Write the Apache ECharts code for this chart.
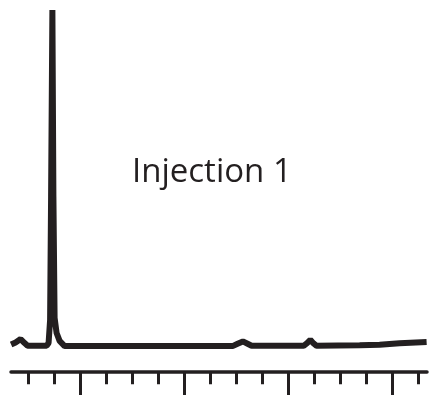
<!DOCTYPE html>
<html>
<head>
<meta charset="utf-8">
<script src="https://cdn.jsdelivr.net/npm/echarts@6/dist/echarts.min.js"></script>
<style>
  html, body { margin: 0; padding: 0; background: #fff; }
  #main { width: 429px; height: 395px; }
</style>
</head>
<body>
<div id="main"></div>
<script>
// retention time (axis units) and detector signal
var times = [
    -0.646, -0.473, -0.281, -0.127, -0.012,
    0.719, 0.796, 0.854, 0.892, 0.942, 0.981, 1.027, 1.104, 1.219, 1.412,
    3.0, 6.0, 7.873, 8.065, 8.269, 8.45, 8.604,
    10.604, 10.738, 10.862, 10.988, 11.104,
    12.758, 13.527, 14.296, 15.335
];
var signal = [
    0.4, 1.0, 2.0, 0.8, 0,
    0, 0.85, 7.7, 44.5, 100, 44.5, 8.3, 3.8, 1.45, -0.1,
    -0.1, -0.1, -0.1, 0.6, 1.3, 0.6, 0,
    0, 0.8, 1.75, 0.7, 0,
    0.15, 0.3, 0.75, 1.15
];
var minorTicks = [0, 1, 2, 3, 4, 5, 6, 7, 8, 9, 10, 11, 12, 13, 14, 15];
var majorTicks = [2, 6, 10, 14];
var label = 'Injection 1';

var ink = '#231f20';

var chart = echarts.init(document.getElementById('main'));

chart.setOption({
    animation: false,
    grid: { left: 11, right: 2, top: 10, bottom: 23.7 },
    xAxis: [{
        type: 'value',
        min: -0.65,
        max: 15.35,
        position: 'bottom',
        offset: 0,
        splitLine: { show: false },
        axisLabel: { show: false },
        axisLine: { show: true, onZero: false, lineStyle: { color: ink, width: 3.5 } },
        axisTick: { show: true, inside: false, length: 13, customValues: minorTicks,
            lineStyle: { color: ink, width: 3 } }
    }, {
        type: 'value',
        min: -0.65,
        max: 15.35,
        position: 'bottom',
        offset: 0,
        splitLine: { show: false },
        axisLabel: { show: false },
        axisLine: { show: false, onZero: false },
        axisTick: { show: true, inside: false, length: 26, customValues: majorTicks,
            lineStyle: { color: ink, width: 3 } }
    }],
    yAxis: {
        type: 'value',
        min: -7.6,
        max: 100,
        show: false
    },
    graphic: [{
        type: 'text',
        left: 132,
        top: 156,
        style: {
            text: label,
            fill: ink,
            font: '33px "Open Sans", sans-serif'
        }
    }],
    series: [{
        type: 'line',
        xAxisIndex: 0,
        data: times.map(function (t, i) { return [t, signal[i]]; }),
        showSymbol: false,
        clip: false,
        lineStyle: { color: ink, width: 6, join: 'bevel' }
    }]
});
</script>
</body>
</html>
